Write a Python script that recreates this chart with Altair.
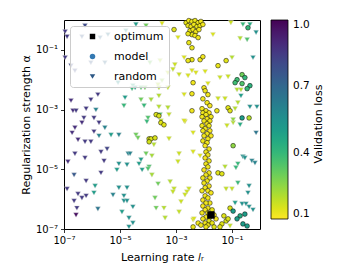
import altair as alt
import numpy as np
import pandas as pd

# ---- random search trials: log10(learning rate), log10(alpha), validation loss
random_lr_exp = [
    -6.96, -6.89, -6.25, -6.36, -5.71, -5.43, -4.79, -4.43, -4.07, -3.50,
    -6.96, -6.75, -6.61, -6.04, -5.54, -3.93, -5.07, -4.54, -4.11, -3.64,
    -6.75, -6.04, -5.79, -6.68, -6.57, -6.21, -5.86, -4.14, -3.57, -3.29,
    -4.86, -4.82, -6.29, -5.93, -5.75, -6.36, -6.61, -6.71, -5.54, -5.93,
    -5.75, -5.32, -5.04, -6.50, -6.25, -6.04, -6.61, -6.86, -6.25, -5.68,
    -5.46, -5.57, -4.71, -4.64, -5.04, -4.75, -5.11, -6.64, -5.68, -6.21,
    -5.89, -5.93, -6.89, -6.50, -6.36, -6.21, -6.64, -5.25, -5.04, -4.75,
    -4.86, -4.86, -4.75, -6.54, -5.79, -4.93, -6.57, -4.68, -4.68, -4.54,
    -4.04, -2.68, -4.43, -4.36, -3.79, -3.25, -2.39, -4.07, -3.86, -2.89,
    -2.39, -4.25, -4.32, -3.96, -4.00, -4.21, -3.86, -2.93, -3.64, -3.21,
    -3.07, -3.11, -2.54, -2.61, -2.68, -3.75, -2.82, -4.54, -3.71, -3.43,
    -2.89, -3.39, -2.39, -1.18, -0.96, -0.71, -0.14, -2.14, -0.61, -0.54,
    -0.29, -0.18, -0.79, -0.86, -1.25, -0.79, -0.39, -0.43, -1.21, -1.00,
    -0.89, -0.64, -0.50, -0.39, -0.25, -2.36, -1.07, -1.68, -0.71, -0.46,
    -0.36, -0.61, -0.14, -0.25, -1.00, -2.43, -2.29, -1.96, -1.43, -1.14,
    -0.82, -0.68, -1.86, -0.68, -1.50, -1.25, -0.79, -0.36, -0.11, -0.89,
    -0.96, -2.93, -2.71, -3.29, -3.11, -2.89, -2.57, -3.50, -4.57, -4.46,
    -4.25, -3.61, -3.29, -4.25, -3.89, -3.61, -2.71, -3.61, -4.00, -3.25,
    -3.54, -2.71, -1.04, -3.57, -3.04,
]
random_alpha_exp = [
    -0.39, -0.56, -0.19, -0.56, -0.59, -0.49, -0.36, -0.15, -0.19, -0.12,
    -1.26, -1.53, -1.70, -1.43, -1.43, -1.43, -2.10, -2.20, -2.27, -2.17,
    -2.70, -2.67, -2.50, -3.04, -3.04, -2.97, -3.01, -2.87, -3.17, -2.94,
    -2.87, -2.60, -3.28, -3.28, -3.44, -3.44, -3.61, -3.78, -3.61, -3.74,
    -3.88, -3.85, -3.85, -4.01, -4.08, -4.08, -4.48, -4.75, -4.62, -4.42,
    -4.32, -4.72, -4.48, -4.48, -4.82, -4.85, -5.02, -5.19, -5.12, -5.39,
    -5.56, -5.79, -5.66, -5.83, -5.96, -5.89, -6.06, -5.86, -5.62, -5.62,
    -5.89, -6.06, -6.06, -6.30, -6.33, -6.43, -6.53, -6.63, -6.93, -6.80,
    -3.41, -3.41, -3.85, -3.95, -4.18, -3.98, -3.78, -4.48, -4.55, -4.48,
    -4.42, -4.68, -4.82, -4.92, -4.99, -5.02, -5.19, -4.75, -5.49, -5.42,
    -5.66, -5.76, -5.66, -5.76, -5.86, -5.96, -6.09, -6.26, -6.30, -6.30,
    -6.43, -6.63, -6.70, -3.54, -3.44, -3.51, -3.78, -4.55, -4.58, -4.62,
    -4.72, -4.79, -4.82, -4.95, -4.92, -5.46, -5.56, -5.79, -5.66, -5.66,
    -6.13, -6.16, -6.16, -6.26, -6.36, -6.66, -6.90, -0.49, -0.62, -0.66,
    -0.15, -0.15, -0.42, -1.26, -1.26, -1.70, -1.77, -1.73, -1.93, -1.90,
    -2.34, -2.34, -2.13, -2.54, -2.64, -2.64, -2.77, -2.91, -2.91, -2.97,
    -3.34, -0.59, -1.26, -1.77, -1.66, -1.83, -1.87, -2.03, -2.30, -2.27,
    -2.27, -2.27, -2.27, -2.67, -2.67, -2.54, -2.50, -2.91, -3.28, -3.17,
    -3.38, -3.38, -0.09, -1.36, -1.50,
]
random_loss = [
    0.85, 0.85, 0.80, 0.75, 0.70, 0.65, 0.55, 0.50, 0.30, 0.15,
    0.85, 0.80, 0.80, 0.75, 0.70, 0.30, 0.55, 0.45, 0.30, 0.20,
    0.88, 0.85, 0.85, 0.88, 0.85, 0.85, 0.60, 0.40, 0.35, 0.20,
    0.40, 0.50, 0.85, 0.85, 0.85, 0.88, 0.88, 0.88, 0.60, 0.85,
    0.60, 0.50, 0.60, 0.88, 0.85, 0.85, 0.85, 0.88, 0.85, 0.85,
    0.82, 0.85, 0.60, 0.60, 0.55, 0.55, 0.50, 0.75, 0.85, 0.85,
    0.50, 0.50, 0.85, 0.85, 0.85, 0.85, 0.85, 0.60, 0.55, 0.55,
    0.55, 0.55, 0.55, 0.85, 0.65, 0.50, 0.97, 0.55, 0.55, 0.55,
    0.40, 0.15, 0.30, 0.30, 0.20, 0.17, 0.15, 0.30, 0.22, 0.17,
    0.15, 0.50, 0.50, 0.35, 0.35, 0.50, 0.22, 0.17, 0.30, 0.20,
    0.18, 0.18, 0.17, 0.17, 0.17, 0.30, 0.17, 0.55, 0.30, 0.20,
    0.18, 0.20, 0.15, 0.17, 0.20, 0.45, 0.65, 0.15, 0.55, 0.55,
    0.60, 0.60, 0.40, 0.40, 0.20, 0.40, 0.55, 0.55, 0.18, 0.18,
    0.50, 0.55, 0.55, 0.55, 0.55, 0.15, 0.18, 0.15, 0.20, 0.35,
    0.45, 0.40, 0.55, 0.55, 0.20, 0.15, 0.15, 0.15, 0.17, 0.17,
    0.20, 0.20, 0.15, 0.50, 0.17, 0.17, 0.20, 0.55, 0.55, 0.20,
    0.25, 0.15, 0.15, 0.18, 0.18, 0.17, 0.15, 0.25, 0.40, 0.50,
    0.35, 0.20, 0.18, 0.30, 0.22, 0.20, 0.15, 0.20, 0.35, 0.18,
    0.20, 0.15, 0.17, 0.20, 0.17,
]

# ---- model-guided trials
model_lr_exp = [
    # top cluster
    -2.64, -2.54, -2.43, -2.32, -2.21, -2.11, -2.57, -2.46, -2.36, -2.25,
    -2.14, -2.04, -2.50, -2.39, -2.29, -2.18, -2.43, -2.32, -2.57, -2.21,
    -3.07,
    # scattered
    -2.43, -2.54, -2.43, -2.14, -2.04, -2.57, -1.21, -1.50, -0.64, -0.82,
    -0.89, -0.54, -0.64, -0.36, -0.46, -2.39, -2.00, -2.43, -1.14, -1.07,
    -1.54, -2.43, -0.64, -0.39, -0.43, -3.71, -3.61, -3.54, -3.43, -3.96,
    -3.89, -3.75, -3.96, -0.96, -1.50, -1.36, -1.07, -0.96, -0.54, -0.71,
    -0.82, -0.61, -0.46, -1.21, -1.36, -1.29, -1.14, -1.43, -2.39, -2.21,
    # column
    -1.96, -1.86, -2.04, -1.89, -1.79, -2.07, -1.93, -1.82, -2.04, -1.93,
    -1.75, -2.07, -1.89, -2.00, -1.79, -1.89, -2.07, -1.82, -1.96, -1.79,
    -2.04, -1.89, -2.00, -1.75, -1.86, -2.04, -1.89, -1.96, -1.82, -1.93,
    -1.86, -1.96, -1.82, -1.93, -1.86, -2.00, -1.82, -1.93, -2.04, -1.79,
    -1.89, -2.00, -1.82, -1.96, -1.86, -2.07, -1.75, -1.96, -1.86, -2.04,
    -1.79, -1.93, -2.04, -1.86, -1.71, -1.96, -1.86, -2.07, -1.64, -1.93,
    -1.79, -2.04, -1.57, -1.82, -1.96, -1.71, -2.11, -1.86, -1.64, -1.93,
]
model_alpha_exp = [
    -0.09, -0.02, -0.05, -0.02, -0.09, -0.05, -0.19, -0.22, -0.15, -0.22,
    -0.19, -0.15, -0.36, -0.32, -0.39, -0.32, -0.49, -0.52, -0.46, -0.59,
    -0.32,
    -0.93, -0.76, -1.33, -1.33, -1.23, -1.36, -1.36, -1.53, -1.83, -2.00,
    -2.10, -1.93, -2.13, -2.20, -2.30, -2.10, -2.27, -2.47, -2.94, -3.04,
    -3.04, -3.04, -3.28, -3.28, -0.26, -3.17, -3.21, -3.44, -3.51, -3.98,
    -3.98, -3.95, -4.08, -4.21, -5.12, -5.15, -6.30, -6.40, -6.50, -6.56,
    -6.66, -6.83, -6.90, -6.73, -6.83, -6.56, -6.66, -6.93, -6.93, -6.80,
    -2.37, -2.50, -2.64, -2.77, -2.87, -2.97, -3.04, -3.11, -3.11, -3.17,
    -3.24, -3.24, -3.31, -3.38, -3.38, -3.48, -3.54, -3.54, -3.64, -3.71,
    -3.71, -3.81, -3.88, -3.88, -3.98, -4.05, -4.11, -4.21, -4.32, -4.42,
    -4.52, -4.62, -4.72, -4.82, -4.92, -5.02, -5.12, -5.19, -5.29, -5.29,
    -5.39, -5.46, -5.56, -5.62, -5.72, -5.72, -5.79, -5.89, -5.96, -6.03,
    -6.13, -6.13, -6.23, -6.30, -6.36, -6.36, -6.46, -6.46, -6.53, -6.60,
    -6.60, -6.66, -6.66, -6.73, -6.80, -6.80, -6.87, -6.87, -6.93, -6.93,
]
model_loss = [
    0.13, 0.12, 0.12, 0.13, 0.12, 0.12, 0.13, 0.12, 0.12, 0.13,
    0.12, 0.12, 0.13, 0.12, 0.12, 0.12, 0.13, 0.12, 0.13, 0.12,
    0.14,
    0.13, 0.13, 0.13, 0.12, 0.12, 0.13, 0.14, 0.13, 0.30, 0.38,
    0.38, 0.40, 0.35, 0.42, 0.40, 0.12, 0.12, 0.12, 0.14, 0.14,
    0.13, 0.12, 0.50, 0.20, 0.40, 0.15, 0.15, 0.14, 0.14, 0.16,
    0.15, 0.15, 0.16, 0.25, 0.14, 0.14, 0.15, 0.50, 0.50, 0.45,
    0.50, 0.50, 0.50, 0.15, 0.14, 0.14, 0.15, 0.14, 0.13, 0.12,
    0.12, 0.12, 0.12, 0.12, 0.11, 0.12, 0.12, 0.11, 0.12, 0.12,
    0.12, 0.12, 0.11, 0.12, 0.12, 0.11, 0.12, 0.12, 0.12, 0.11,
    0.12, 0.12, 0.12, 0.11, 0.12, 0.12, 0.12, 0.11, 0.12, 0.12,
    0.12, 0.11, 0.12, 0.12, 0.12, 0.11, 0.12, 0.12, 0.12, 0.11,
    0.12, 0.12, 0.11, 0.12, 0.12, 0.12, 0.11, 0.12, 0.12, 0.11,
    0.12, 0.12, 0.11, 0.12, 0.13, 0.11, 0.12, 0.12, 0.11, 0.12,
    0.13, 0.12, 0.11, 0.14, 0.12, 0.13, 0.12, 0.12, 0.14, 0.12,
]

# ---- best configuration
optimum_lr_exp = [-1.75]
optimum_alpha_exp = [-6.53]

legend_labels = ["optimum", "model", "random"]
legend_shapes = ["square", "circle", "triangle-down"]
legend_colors = ["#000000", "#3479b2", "#2c5785"]

tick_values = [1e-7, 1e-5, 1e-3, 1e-1]
tick_labels = ["10⁻⁷", "10⁻⁵", "10⁻³", "10⁻¹"]
loss_ticks = [0.1, 0.4, 0.7, 1.0]
colorbar_title = ["Validation loss"]

df_random = pd.DataFrame({
    "lr": 10.0 ** np.array(random_lr_exp),
    "alpha": 10.0 ** np.array(random_alpha_exp),
    "loss": random_loss,
})
df_model = pd.DataFrame({
    "lr": 10.0 ** np.array(model_lr_exp),
    "alpha": 10.0 ** np.array(model_alpha_exp),
    "loss": model_loss,
})
df_opt = pd.DataFrame({
    "lr": 10.0 ** np.array(optimum_lr_exp),
    "alpha": 10.0 ** np.array(optimum_alpha_exp),
})
df_leg = pd.DataFrame({
    "cat": legend_labels,
    "lr": [np.nan] * 3,
    "alpha": [np.nan] * 3,
})
df_title = pd.DataFrame({"t": colorbar_title})

# tick label expression
expr = "'" + tick_labels[-1] + "'"
for v, lab in reversed(list(zip(tick_values[:-1], tick_labels[:-1]))):
    expr = f"datum.value < {v * 3} ? '{lab}' : " + expr

FONT = "DejaVu Sans"
W, H = 196, 209
xscale = alt.Scale(type="log", domain=[1e-7, 1.0], nice=False)
yscale = alt.Scale(type="log", domain=[1e-7, 1.0], nice=False)
xaxis = alt.Axis(values=tick_values, labelExpr=expr, title="Learning rate 𝑙ᵣ",
                 labelFlush=False, titlePadding=6)
yaxis = alt.Axis(values=tick_values, labelExpr=expr, title="Regularization strength α",
                 labelFlush=False)

x_enc = alt.X("lr:Q", scale=xscale, axis=xaxis)
y_enc = alt.Y("alpha:Q", scale=yscale, axis=yaxis)
color_enc = alt.Color(
    "loss:Q",
    scale=alt.Scale(scheme="viridis", reverse=True, domain=[0.1, 1.0]),
    legend=alt.Legend(
        title=None, orient="right", offset=11, direction="vertical",
        gradientLength=199, gradientThickness=17,
        gradientStrokeColor="black", gradientStrokeWidth=0.8,
        values=loss_ticks, format=".1f", labelFontSize=10.5, labelFont=FONT,
        labelOffset=5, labelBaseline="middle", labelColor="black",
    ),
)

random_layer = alt.Chart(df_random).mark_point(
    shape="triangle-down", filled=True, size=26, stroke="#d8d8d8",
    strokeWidth=0.4, opacity=1,
).encode(x=x_enc, y=y_enc, color=color_enc)

model_layer = alt.Chart(df_model).mark_point(
    shape="circle", filled=True, size=22, stroke="black", strokeWidth=0.5, opacity=1,
).encode(x=x_enc, y=y_enc, color=color_enc)

opt_layer = alt.Chart(df_opt).mark_point(
    shape="square", filled=True, size=55, color="black", opacity=1,
).encode(x=x_enc, y=y_enc)

leg_props = dict(
    title=None, orient="top-left", offset=6, fillColor="rgba(255,255,255,0.8)",
    strokeColor="#cccccc", cornerRadius=3, padding=5, labelFontSize=11,
    labelFont=FONT, labelColor="black", symbolSize=30, symbolStrokeWidth=0,
    rowPadding=8, labelOffset=16, symbolOffset=12,
)
legend_layer = alt.Chart(df_leg).mark_point(filled=True, opacity=1).encode(
    x=alt.X("lr:Q"),
    y=alt.Y("alpha:Q"),
    fill=alt.Fill("cat:N", scale=alt.Scale(domain=legend_labels, range=legend_colors),
                  legend=alt.Legend(**leg_props)),
    shape=alt.Shape("cat:N", scale=alt.Scale(domain=legend_labels, range=legend_shapes),
                    legend=alt.Legend(**leg_props)),
)

title_layer = alt.Chart(df_title).mark_text(
    angle=270, align="center", baseline="middle", font=FONT, fontSize=11, color="black",
).encode(x=alt.value(W + 59), y=alt.value(104), text="t:N")

chart = alt.layer(random_layer, model_layer, opt_layer, legend_layer, title_layer).properties(
    width=W, height=H,
    padding={"left": 12, "top": 9, "right": 0, "bottom": 0},
    background="white",
).configure_view(
    stroke="black", strokeWidth=1,
).configure_axis(
    grid=False, domain=False, tickColor="black", tickSize=3.5, tickWidth=0.8,
    labelColor="black", titleColor="black", labelFont=FONT, titleFont=FONT,
    labelFontSize=10, titleFontSize=11, titleFontWeight="normal", labelPadding=3,
)

chart.save("out.html", embed_options={"renderer": "svg", "actions": False})
